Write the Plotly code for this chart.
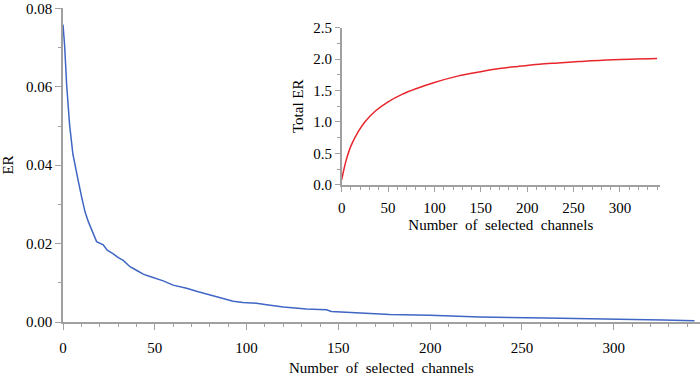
import plotly.graph_objects as go

# Main chart: ER per number of selected channels
channels = [0, 0.9, 2, 3.6, 5.4, 7.3, 8.3, 10.2, 12, 13.8, 15.6, 18.3, 21.9, 24.1, 27.4,
            30.1, 32.8, 36.5, 40, 43.7, 47.4, 54.6, 60, 67.3, 73.7, 80, 87.3, 92.7, 98,
            105.4, 110.9, 120, 132.6, 143.5, 146.2, 159.8, 170.7, 178, 199.8, 227, 263,
            299.6, 326.8, 344]
er_values = [0.0759, 0.0704, 0.0604, 0.0503, 0.0428, 0.0377, 0.0360, 0.0318, 0.0281, 0.0256,
             0.0235, 0.0205, 0.0197, 0.0183, 0.0174, 0.0164, 0.0157, 0.0141, 0.0132, 0.0122,
             0.0116, 0.0105, 0.0094, 0.0086, 0.0077, 0.0069, 0.0060, 0.0053, 0.0050, 0.0048,
             0.0044, 0.0038, 0.0033, 0.0031, 0.0027, 0.0024, 0.0021, 0.0019, 0.0017, 0.0013,
             0.0010, 0.0008, 0.0005, 0.0003]

# Inset: Total ER
inset_channels = [0, 2, 5, 10, 18, 25, 36, 50, 65, 80, 100, 125, 150, 170, 190, 213, 233,
                  256, 292, 340]
total_er = [0.08, 0.22, 0.40, 0.62, 0.85, 1.00, 1.17, 1.32, 1.44, 1.53, 1.63, 1.73, 1.80,
            1.85, 1.885, 1.92, 1.94, 1.962, 1.99, 2.01]

y_ticks = [0, 0.02, 0.04, 0.06, 0.08]
x_ticks = [0, 50, 100, 150, 200, 250, 300]
inset_y_ticks = [0, 0.5, 1.0, 1.5, 2.0, 2.5]

x_title = "Number\u00a0 of\u00a0 selected\u00a0 channels"
FONT = "Liberation Serif, Times New Roman, serif"
AX = "#a0a0a0"

fig = go.Figure()
fig.add_trace(go.Scatter(x=channels, y=er_values, mode="lines",
                         line=dict(color="#3f66c4", width=1.5), xaxis="x", yaxis="y",
                         showlegend=False, hoverinfo="skip"))
fig.add_trace(go.Scatter(x=inset_channels, y=total_er, mode="lines",
                         line=dict(color="#e8262d", width=1.5, shape="spline", smoothing=1),
                         xaxis="x2", yaxis="y2", showlegend=False, hoverinfo="skip"))

common = dict(showgrid=False, zeroline=False, showline=True, linecolor=AX, linewidth=1.5,
              ticks="outside", tickcolor=AX, tickwidth=1,
              tickfont=dict(family=FONT, size=15, color="black"))

fig.update_layout(
    width=700, height=376,
    margin=dict(l=63, r=0, t=5, b=53),
    paper_bgcolor="white", plot_bgcolor="white",
    font=dict(family=FONT, size=15, color="black"),
    xaxis=dict(range=[0, 347], tickvals=x_ticks, ticklen=6,
               minor=dict(dtick=10, tick0=0, ticks="outside", ticklen=3, tickcolor=AX),
               ticklabelstandoff=5,
               title=dict(text=x_title, standoff=10, font=dict(family=FONT, size=15)),
               **common),
    yaxis=dict(range=[0, 0.0801], tickvals=y_ticks, tickformat=".2f", ticklen=6,
               minor=dict(dtick=0.01, tick0=0, ticks="outside", ticklen=3, tickcolor=AX),
               title=dict(text="ER", standoff=9, font=dict(family=FONT, size=15)),
               **common),
    xaxis2=dict(domain=[0.4375, 0.937], anchor="y2", range=[0, 343],
                tickvals=x_ticks, ticklen=5,
                minor=dict(dtick=10, tick0=0, ticks="outside", ticklen=3, tickcolor=AX),
                ticklabelstandoff=3,
                title=dict(text=x_title, standoff=5, font=dict(family=FONT, size=15)),
                **common),
    yaxis2=dict(domain=[0.437, 0.937], anchor="x2", range=[0, 2.5],
                tickvals=inset_y_ticks, tickformat=".1f", ticklen=5,
                minor=dict(dtick=0.25, tick0=0, ticks="outside", ticklen=3, tickcolor=AX),
                title=dict(text="Total ER", standoff=6, font=dict(family=FONT, size=15)),
                **common),
)

fig.write_html("out.html", config={"displayModeBar": False},
               post_script="document.body.style.margin='0';document.body.style.padding='0';")
